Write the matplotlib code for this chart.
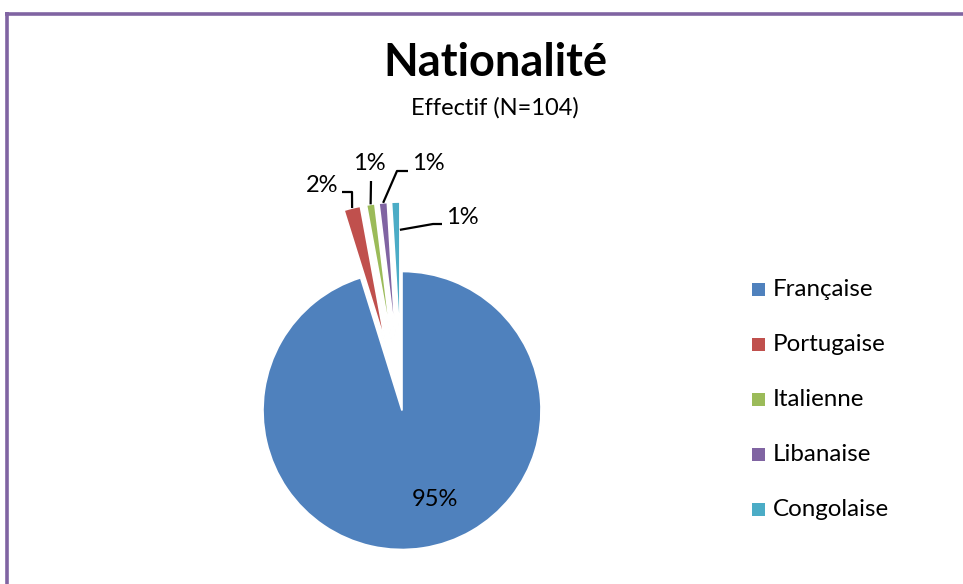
import numpy as np
import matplotlib.pyplot as plt

plt.rcParams['font.family'] = ['Lato', 'DejaVu Sans']

nationalites = ["Française", "Portugaise", "Italienne", "Libanaise", "Congolaise"]
effectifs = [99, 2, 1, 1, 1]
couleurs = ["#4F81BD", "#C0504D", "#9BBB59", "#8064A2", "#4BACC6"]
eclatement = [0, 0.5, 0.5, 0.5, 0.5]

W, H = 963, 584
fig = plt.figure(figsize=(W / 100, H / 100), dpi=100)
ax = fig.add_axes([0, 0, 1, 1])


def py(y):
    # y en pixels depuis le haut -> coordonnées de l'axe
    return H - y


total = sum(effectifs)
cx, cy, R = 402, py(410.5), 139
# explode de matplotlib est en unités de données, pas en rayon
wedges, _ = ax.pie(effectifs, colors=couleurs, explode=[e * R for e in eclatement],
                   startangle=90, counterclock=False, center=(cx, cy),
                   radius=R, wedgeprops=dict(edgecolor="white", linewidth=1.2))
ax.set_xlim(0, W)
ax.set_ylim(0, H)
ax.set_aspect("equal")
ax.axis("off")

pcts = [f"{round(v / total * 100)}%" for v in effectifs]


def point(w, frac_r, t):
    # point sur le secteur: rayon relatif, position angulaire relative (0..1)
    ang = np.deg2rad(w.theta1 + t * (w.theta2 - w.theta1))
    x0, y0 = w.center
    return x0 + frac_r * w.r * np.cos(ang), y0 + frac_r * w.r * np.sin(ang)


# étiquette du grand secteur
ax.text(435, py(499), pcts[0], ha="center", va="center", fontsize=17)

# étiquettes des petits secteurs avec lignes de rappel
reglages = [
    # (secteur, rayon rel., pos. ang., coudes, texte xy, alignement)
    (1, 1.0, 0.5, [(352, 192), (342, 192)], (338, 186), "right"),
    (2, 1.0, 0.5, [(371, 181)], (369, 164), "center"),
    (3, 1.0, 0.5, [(397, 171), (408, 171)], (412, 164), "left"),
    (4, 0.8, 0.0, [(433, 224), (442, 224)], (446, 217), "left"),
]
for i, fr, t, coudes, (tx, ty), ha in reglages:
    x0, y0 = point(wedges[i], fr, t)
    xs = [x0] + [c[0] for c in coudes]
    ys = [y0] + [py(c[1]) for c in coudes]
    ax.plot(xs, ys, color="black", linewidth=1.6, solid_capstyle="butt")
    ax.text(tx, py(ty), pcts[i], ha=ha, va="center", fontsize=17)

# titres
ax.text(495, py(63), "Nationalité", ha="center", va="center",
        fontsize=32.5, fontweight="bold")
ax.text(495, py(108), "Effectif (N=104)", ha="center", va="center", fontsize=17)

# légende
for k, (nom, c) in enumerate(zip(nationalites, couleurs)):
    yk = py(289 + k * 55.2)
    ax.add_patch(plt.Rectangle((752, yk - 6.5), 13, 13, facecolor=c,
                               edgecolor="none"))
    ax.text(773, yk, nom, ha="left", va="center", fontsize=17.4)

# cadre violet
ax.plot([5, W], [py(13.5), py(13.5)], color="#8064A2", linewidth=2.6,
        solid_capstyle="butt")
ax.plot([6.5, 6.5], [py(12), 0], color="#8064A2", linewidth=2.6,
        solid_capstyle="butt")

fig.savefig("out.png", dpi=100, facecolor="white")
